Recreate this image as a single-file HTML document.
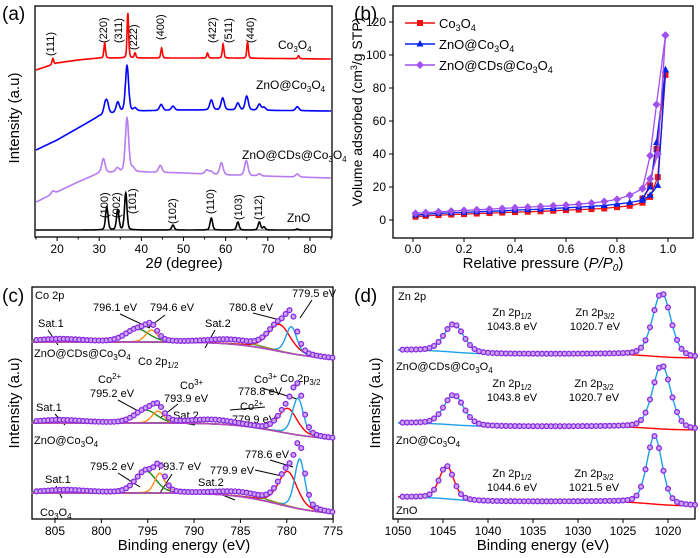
<!DOCTYPE html>
<html><head><meta charset="utf-8"><style>
body{margin:0;background:#fff}
svg{display:block;font-family:"Liberation Sans",sans-serif}
</style></head><body>
<svg id="fig" width="700" height="558" viewBox="0 0 700 558" xmlns="http://www.w3.org/2000/svg">
<rect width="700" height="558" fill="#fff"/>
<g id="static" font-size="11">
<text x="2" y="20" font-size="19">(a)</text>
<text x="354" y="20" font-size="19">(b)</text>
<text x="2" y="302" font-size="19">(c)</text>
<text x="354" y="302" font-size="19">(d)</text>

<text transform="translate(19,118) rotate(-90)" text-anchor="middle" font-size="15">Intensity (a.u)</text>
<text x="184" y="268" text-anchor="middle" font-size="15">2<tspan font-style="italic">θ</tspan> (degree)</text>
<text x="278" y="49" font-size="12">Co<tspan font-size="8" dy="3">3</tspan><tspan dy="-3">O</tspan><tspan font-size="8" dy="3">4</tspan></text>
<text x="256" y="89" font-size="12">ZnO@Co<tspan font-size="8" dy="3">3</tspan><tspan dy="-3">O</tspan><tspan font-size="8" dy="3">4</tspan></text>
<text x="242" y="159" font-size="12">ZnO@CDs@Co<tspan font-size="8" dy="3">3</tspan><tspan dy="-3">O</tspan><tspan font-size="8" dy="3">4</tspan></text>
<text x="287" y="222" font-size="12">ZnO</text>
<g font-size="11">
<text transform="translate(54,56) rotate(-90)">(111)</text>
<text transform="translate(107,43) rotate(-90)">(220)</text>
<text transform="translate(122,43) rotate(-90)">(311)</text>
<text transform="translate(137,50) rotate(-90)">(222)</text>
<text transform="translate(164,40) rotate(-90)">(400)</text>
<text transform="translate(216,43) rotate(-90)">(422)</text>
<text transform="translate(232,43) rotate(-90)">(511)</text>
<text transform="translate(254,43) rotate(-90)">(440)</text>
<text transform="translate(108,218) rotate(-90)">(100)</text>
<text transform="translate(120,218) rotate(-90)">(002)</text>
<text transform="translate(136,214) rotate(-90)">(101)</text>
<text transform="translate(176,224) rotate(-90)">(102)</text>
<text transform="translate(214,214) rotate(-90)">(110)</text>
<text transform="translate(242,220) rotate(-90)">(103)</text>
<text transform="translate(262,220) rotate(-90)">(112)</text>
</g>

<text transform="translate(362,112) rotate(-90)" text-anchor="middle" font-size="14">Volume adsorbed (cm<tspan font-size="9" dy="-5">3</tspan><tspan dy="5">/g STP)</tspan></text>
<text x="543" y="268" text-anchor="middle" font-size="15">Relative pressure (<tspan font-style="italic">P/P</tspan><tspan font-style="italic" font-size="10" dy="3">0</tspan><tspan dy="-3">)</tspan></text>

<text transform="translate(19,403) rotate(-90)" text-anchor="middle" font-size="15">Intensity (a.u)</text>
<text x="184" y="550" text-anchor="middle" font-size="15">Binding energy (eV)</text>
<g font-size="11">
<text x="35" y="299">Co 2p</text>
<text x="93" y="311">796.1 eV</text><text x="150" y="311">794.6 eV</text>
<text x="229" y="311">780.8 eV</text><text x="292" y="297">779.5 eV</text>
<text x="38" y="327">Sat.1</text><text x="205" y="327">Sat.2</text>
<text x="34" y="357">ZnO@CDs@Co<tspan font-size="8" dy="3">3</tspan><tspan dy="-3">O</tspan><tspan font-size="8" dy="3">4</tspan></text>
<text x="138" y="365">Co 2p<tspan font-size="8" dy="3">1/2</tspan></text>
<text x="280" y="382">Co 2p<tspan font-size="8" dy="3">3/2</tspan></text>
<text x="98" y="383">Co<tspan font-size="8" dy="-4">2+</tspan></text>
<text x="90" y="397">795.2 eV</text>
<text x="180" y="389">Co<tspan font-size="8" dy="-4">3+</tspan></text>
<text x="164" y="402">793.9 eV</text>
<text x="254" y="383">Co<tspan font-size="8" dy="-4">3+</tspan></text>
<text x="238" y="395">778.8 eV</text>
<text x="240" y="410">Co<tspan font-size="8" dy="-4">2+</tspan></text>
<text x="232" y="423">779.9 eV</text>
<text x="36" y="411">Sat.1</text><text x="173" y="419">Sat.2</text>
<text x="34" y="444">ZnO@Co<tspan font-size="8" dy="3">3</tspan><tspan dy="-3">O</tspan><tspan font-size="8" dy="3">4</tspan></text>
<text x="245" y="458">778.6 eV</text>
<text x="90" y="470">795.2 eV</text><text x="157" y="470">793.7 eV</text>
<text x="210" y="474">779.9 eV</text>
<text x="45" y="483">Sat.1</text><text x="198" y="486">Sat.2</text>
<text x="40" y="516">Co<tspan font-size="8" dy="3">3</tspan><tspan dy="-3">O</tspan><tspan font-size="8" dy="3">4</tspan></text>
</g>
<g stroke="#000" stroke-width="1" fill="none">
<path d="M150,328 L120,314"/><path d="M148,328 L165,315"/><path d="M280,320 L253,313"/><path d="M300,318 L312,300"/>
<path d="M58,345 L48,330"/><path d="M205,348 L215,330"/>
<path d="M140,412 L118,400"/><path d="M160,418 L178,404"/><path d="M265,407 L230,410"/><path d="M297,399 L262,388"/>
<path d="M65,425 L55,414"/><path d="M195,425 L178,422"/>
<path d="M140,487 L118,473"/><path d="M160,493 L172,474"/><path d="M282,476 L255,470"/><path d="M293,467 L270,460"/>
<path d="M62,498 L56,486"/><path d="M235,500 L210,490"/>
</g>

<text transform="translate(380,403) rotate(-90)" text-anchor="middle" font-size="15">Intensity (a.u)</text>
<text x="543" y="550" text-anchor="middle" font-size="15">Binding energy (eV)</text>
<g font-size="11" text-anchor="middle">
<text x="398" y="300" text-anchor="start">Zn 2p</text>
<text x="512" y="316">Zn 2p<tspan font-size="8" dy="3">1/2</tspan></text><text x="512" y="330">1043.8 eV</text>
<text x="595" y="316">Zn 2p<tspan font-size="8" dy="3">3/2</tspan></text><text x="595" y="330">1020.7 eV</text>
<text x="396" y="370" text-anchor="start">ZnO@CDs@Co<tspan font-size="8" dy="3">3</tspan><tspan dy="-3">O</tspan><tspan font-size="8" dy="3">4</tspan></text>
<text x="512" y="387">Zn 2p<tspan font-size="8" dy="3">1/2</tspan></text><text x="512" y="401">1043.8 eV</text>
<text x="594" y="387">Zn 2p<tspan font-size="8" dy="3">3/2</tspan></text><text x="594" y="401">1020.7 eV</text>
<text x="396" y="444" text-anchor="start">ZnO@Co<tspan font-size="8" dy="3">3</tspan><tspan dy="-3">O</tspan><tspan font-size="8" dy="3">4</tspan></text>
<text x="512" y="477">Zn 2p<tspan font-size="8" dy="3">1/2</tspan></text><text x="512" y="491">1044.6 eV</text>
<text x="594" y="477">Zn 2p<tspan font-size="8" dy="3">3/2</tspan></text><text x="594" y="491">1021.5 eV</text>
<text x="396" y="514" text-anchor="start">ZnO</text>
</g>
</g>
<g id="dyn"></g>
</svg>
<script>
// ---------- data: (a) XRD ----------
const xrdBgX = [15,20,25,30,35,40,50,60,85];
const xrdBgCo = [167,174,177,179,179,179,179,179,178];
const xrdBgZnoCo = [87,97,109,121,125,126,127,127,126];
const xrdBgCds = [35,45,55,64,65,65,64,62,59];
const xrdBgZno = [7,7,7,7,7,7,7,7,7];
const coPos = [19,31.3,36.8,38.5,44.8,55.7,59.4,65.2,77.3];
const coH = [6,15,45,5,10,5,14,16,3];
const znoCoPos = [31.4,31.9,34.4,36.6,38.5,44.7,47.5,56.6,59.3,62.9,65.0,68.0,69.1,77.0];
const znoCoH = [9,10,10,46,3,6,4,10,12,7,14,6,3,4];
const cdsPos = [19,31,34.3,36.6,38,44.5,55.5,56.5,59.0,64.9,68,77];
const cdsH = [3,14,4,54,4,7,4,3,12,15,2,3];
const znoPos = [31.8,34.4,36.3,47.5,56.6,62.9,68,69.1,77];
const znoH = [23,20,37,5,12,8,8,3,1];
const xrdTicks = [20,30,40,50,60,70,80];
// ---------- data: (b) BET ----------
const betAdsP = [0.01,0.05,0.1,0.15,0.2,0.25,0.3,0.35,0.4,0.45,0.5,0.55,0.6,0.65,0.7,0.75,0.8,0.85,0.9,0.93,0.96,0.99];
const betCoAds = [2,2.5,3,3.3,3.6,3.9,4.2,4.5,4.8,5,5.3,5.6,6,6.3,6.6,7,7.8,8.6,10.5,14,26,88];
const betZnoAds = [3,3.5,4,4.3,4.6,5,5.3,5.6,6,6.3,6.6,7,7.4,7.8,8.3,8.8,9.6,10.6,12,15,21,91];
const betCdsAds = [4,4.5,5,5.4,5.8,6.2,6.6,7,7.4,7.8,8.2,8.6,9,9.6,10.3,11.2,12.5,15,19,25,40,112];
const betDesP = [0.99,0.955,0.93,0.9];
const betCoDes = [88,43,21,13];
const betZnoDes = [91,47,20,13];
const betCdsDes = [112,70,39,19];
const betXTicks = [0,0.2,0.4,0.6,0.8,1.0];
const betYTicks = [0,20,40,60,80,100,120];
// ---------- data: (c) Co 2p ----------
const coBgLeft = [177,96,26];
const coBgRight = [159,79,4];
const coPk1Pos = [780.8,779.9,779.9]; const coPk1H = [27,25,35]; const coPk1W = [2.8,2.4,2.4];
const coPk2Pos = [779.5,778.8,778.6]; const coPk2H = [27,37,50]; const coPk2W = [1.4,1.4,1.3];
const coPk3Pos = [796.1,795.2,795.2]; const coPk3H = [13,13,22]; const coPk3W = [3,2.8,2.6];
const coPk4Pos = [794.6,793.9,793.7]; const coPk4H = [12,12,20]; const coPk4W = [1.5,1.5,1.3];
const coSat2Pos = [786,788,785]; const coSat2H = [4,4,4];
const coSat1Pos = [804.5,804.5,804]; const coSat1H = [3,3,3];
const coTicks = [805,800,795,790,785,780,775];
// ---------- data: (d) Zn 2p ----------
const znBgLeft = [169,96,22];
const znBgRight = [161,89,13];
const zn32Pos = [1020.7,1020.7,1021.5]; const zn32H = [64,64,68]; const zn32W = [2.4,2.4,2.0];
const zn12Pos = [1043.8,1043.8,1044.6]; const zn12H = [28,30,33]; const zn12W = [2.6,2.6,1.9];
const znTicks = [1050,1045,1040,1035,1030,1025,1020];

const NS='http://www.w3.org/2000/svg';
const dyn=document.getElementById('dyn');
function mk(tag,attrs,parent,name,inter){
  const el=document.createElementNS(NS,tag);
  for(const k in attrs) el.setAttribute(k,attrs[k]);
  
  
  (parent||dyn).appendChild(el); return el;
}
function pv(x,c,h,w){const d=(x-c)/(w/2);return h*(0.7*Math.exp(-0.693*d*d)+0.3/(1+d*d));}
function interp(xs,ys,x){if(x<=xs[0])return ys[0];for(let i=1;i<xs.length;i++){if(x<=xs[i]){const t=(x-xs[i-1])/(xs[i]-xs[i-1]);return ys[i-1]+t*(ys[i]-ys[i-1]);}}return ys[ys.length-1];}
function pathFrom(pts){return pts.map((p,i)=>(i?'L':'M')+p[0].toFixed(1)+','+p[1].toFixed(1)).join('');}
function frame(x0,y0,x1,y1,name){mk('rect',{x:x0,y:y0,width:x1-x0,height:y1-y0,fill:'none',stroke:'#000','stroke-width':1.3},dyn,name,false);}

// ---- panel a ----
const xa=v=>36+(v-15)*(331-36)/70, ya=v=>237-v;
frame(35,6,332,237,'a-plot-frame');
mk('line',{x1:35,y1:230,x2:332,y2:230,stroke:'#000','stroke-width':0.8},dyn,'a-baseline',false);
xrdTicks.forEach(t=>{mk('line',{x1:xa(t),y1:237,x2:xa(t),y2:241,stroke:'#000'},dyn,'a-x-tick',false);
  const tx=mk('text',{x:xa(t),y:253,'text-anchor':'middle','font-size':12},dyn,'a-x-tick-label',false);tx.textContent=t;});
[15,25,35,45,55,65,75,85].forEach(t=>mk('line',{x1:xa(t),y1:237,x2:xa(t),y2:239.5,stroke:'#000'},dyn,'a-x-minor-tick',false));
function xrd(bg,pos,h,col,w,name){const pts=[];for(let x=15;x<=85;x+=0.05){let y=interp(xrdBgX,bg,x);for(let i=0;i<pos.length;i++)y+=pv(x,pos[i],h[i],w);pts.push([xa(x),ya(y)]);}
  mk('path',{d:pathFrom(pts),fill:'none',stroke:col,'stroke-width':1.6},dyn,name,false);}
xrd(xrdBgCo,coPos,coH,'#ff0000',0.45,'xrd-co3o4');
xrd(xrdBgZnoCo,znoCoPos,znoCoH,'#0000ff',0.9,'xrd-zno-co3o4');
xrd(xrdBgCds,cdsPos,cdsH,'#b77cf0',0.95,'xrd-zno-cds-co3o4');
xrd(xrdBgZno,znoPos,znoH,'#000000',0.7,'xrd-zno');

// ---- panel b ----
const xb=v=>413+v*255, yb=v=>220-v*1.65;
frame(393,6,693,238,'b-plot-frame');
betXTicks.forEach(t=>{mk('line',{x1:xb(t),y1:238,x2:xb(t),y2:242,stroke:'#000'},dyn,'b-x-tick',false);
  const tx=mk('text',{x:xb(t),y:253,'text-anchor':'middle','font-size':12},dyn,'b-x-tick-label',false);tx.textContent=t.toFixed(1);});
betYTicks.forEach(t=>{mk('line',{x1:389,y1:yb(t),x2:393,y2:yb(t),stroke:'#000'},dyn,'b-y-tick',false);
  const tx=mk('text',{x:386,y:yb(t)+4,'text-anchor':'end','font-size':12},dyn,'b-y-tick-label',false);tx.textContent=t;});
function bet(ys,ds,col,shape,name){
  const a=betAdsP.map((p,i)=>[xb(p),yb(ys[i])]);const d=betDesP.map((p,i)=>[xb(p),yb(ds[i])]);
  mk('path',{d:pathFrom(a),fill:'none',stroke:col,'stroke-width':1.3},dyn,name+'-adsorption',false);
  mk('path',{d:pathFrom(d),fill:'none',stroke:col,'stroke-width':1.3},dyn,name+'-desorption',false);
  a.concat(d).forEach(p=>marker(p[0],p[1],col,shape,name+'-point'));}
function marker(x,y,col,shape,name){
  if(shape==='s')mk('rect',{x:x-3,y:y-3,width:6,height:6,fill:col},dyn,name,false);
  else if(shape==='t')mk('path',{d:`M${x},${y-4}L${x+3.5},${y+2.5}L${x-3.5},${y+2.5}Z`,fill:col},dyn,name,false);
  else mk('path',{d:`M${x},${y-4}L${x+4},${y}L${x},${y+4}L${x-4},${y}Z`,fill:col},dyn,name,false);}
bet(betCoAds,betCoDes,'#ee1111','s','bet-co3o4');
bet(betZnoAds,betZnoDes,'#0022ee','t','bet-zno-co3o4');
bet(betCdsAds,betCdsDes,'#a050f0','d','bet-zno-cds-co3o4');
const leg=[['#ee1111','s','Co','3','O','4',''],['#0022ee','t','ZnO@Co','3','O','4',''],['#a050f0','d','ZnO@CDs@Co','3','O','4','']];
leg.forEach((l,i)=>{const y=23+i*21;
  mk('line',{x1:405,y1:y,x2:435,y2:y,stroke:l[0],'stroke-width':1.5},dyn,'legend-line',false);marker(420,y,l[0],l[1],'legend-marker');
  const t=mk('text',{x:439,y:y+5,'font-size':13},dyn,'legend-entry',false);
  t.innerHTML=`${l[2]}<tspan font-size="9" dy="3">${l[3]}</tspan><tspan dy="-3">${l[4]}</tspan><tspan font-size="9" dy="3">${l[5]}</tspan>`;});

// ---- panel c ----
const xc=v=>55+(805-v)*9.27, yc=v=>519-v;
frame(32,287,333,519,'c-plot-frame');
coTicks.forEach(t=>{mk('line',{x1:xc(t),y1:519,x2:xc(t),y2:523,stroke:'#000'},dyn,'c-x-tick',false);
  const tx=mk('text',{x:xc(t),y:535,'text-anchor':'middle','font-size':12},dyn,'c-x-tick-label',false);tx.textContent=t;});
for(let s=0;s<3;s++){
  const bg=x=>coBgRight[s]+(coBgLeft[s]-coBgRight[s])/(1+Math.exp(-(x-781)/2.5));
  const comps=[[coPk1Pos[s],coPk1H[s],coPk1W[s],'#ff0000'],[coPk2Pos[s],coPk2H[s],coPk2W[s],'#1ea0e6'],[coPk3Pos[s],coPk3H[s],coPk3W[s],'#1a8a1a'],[coPk4Pos[s],coPk4H[s],coPk4W[s],'#ff8c1a'],[coSat2Pos[s],coSat2H[s],6,'#8a8a20'],[coSat1Pos[s],coSat1H[s],6,'#2a9a2a']];
  const bgp=[];for(let x=807.5;x>=775;x-=0.1)bgp.push([xc(x),yc(bg(x))]);
  comps.forEach(c=>{const p=[];for(let x=807.5;x>=775;x-=0.1)p.push([xc(x),yc(bg(x)+pv(x,c[0],c[1],c[2]))]);
    mk('path',{d:pathFrom(p),fill:'none',stroke:c[3],'stroke-width':1.4},dyn,'co2p-component',false);});
  mk('path',{d:pathFrom(bgp),fill:'none',stroke:'#c040d0','stroke-width':1.4},dyn,'co2p-background',false);
  for(let x=807;x>=775;x-=0.42){let y=bg(x);comps.forEach(c=>y+=pv(x,c[0],c[1],c[2]));
    mk('circle',{cx:xc(x),cy:yc(y),r:2.4,fill:'#c9a6f2',stroke:'#8a2be2','stroke-width':1.3},dyn,'co2p-data-point',false);}
}

// ---- panel d ----
const xd=v=>398+(1050-v)*9, yd=v=>519-v;
frame(393,287,695,519,'d-plot-frame');
znTicks.forEach(t=>{mk('line',{x1:xd(t),y1:519,x2:xd(t),y2:523,stroke:'#000'},dyn,'d-x-tick',false);
  const tx=mk('text',{x:xd(t),y:535,'text-anchor':'middle','font-size':12},dyn,'d-x-tick-label',false);tx.textContent=t;});
for(let s=0;s<3;s++){
  const bg=x=>znBgRight[s]+(znBgLeft[s]-znBgRight[s])*(0.5/(1+Math.exp(-(x-1022)/1.5))+0.5/(1+Math.exp(-(x-1044)/1.5)));
  const env=x=>bg(x)+pv(x,zn32Pos[s],zn32H[s],zn32W[s])+pv(x,zn12Pos[s],zn12H[s],zn12W[s]);
  const b1=[],b2=[],e1=[],e2=[];
  for(let x=1050;x>=1017;x-=0.1){ (x>1033?b1:b2).push([xd(x),yd(bg(x))]); if(x>1038)e1.push([xd(x),yd(env(x))]); if(x<1028)e2.push([xd(x),yd(env(x))]);}
  mk('path',{d:pathFrom(b1),fill:'none',stroke:'#1ea0e6','stroke-width':1.4},dyn,'zn2p-background-left',false);
  mk('path',{d:pathFrom(b2),fill:'none',stroke:'#ff0000','stroke-width':1.4},dyn,'zn2p-background-right',false);
  mk('path',{d:pathFrom(e1),fill:'none',stroke:s==2?'#ff0000':'#1ea0e6','stroke-width':1.4},dyn,'zn2p-fit-1-2',false);
  mk('path',{d:pathFrom(e2),fill:'none',stroke:'#1ea0e6','stroke-width':1.4},dyn,'zn2p-fit-3-2',false);
  for(let x=1049.5;x>=1017;x-=0.5){
    mk('circle',{cx:xd(x),cy:yd(env(x)),r:2.4,fill:'#c9a6f2',stroke:'#8a2be2','stroke-width':1.3},dyn,'zn2p-data-point',false);}
}
</script>
</body></html>
